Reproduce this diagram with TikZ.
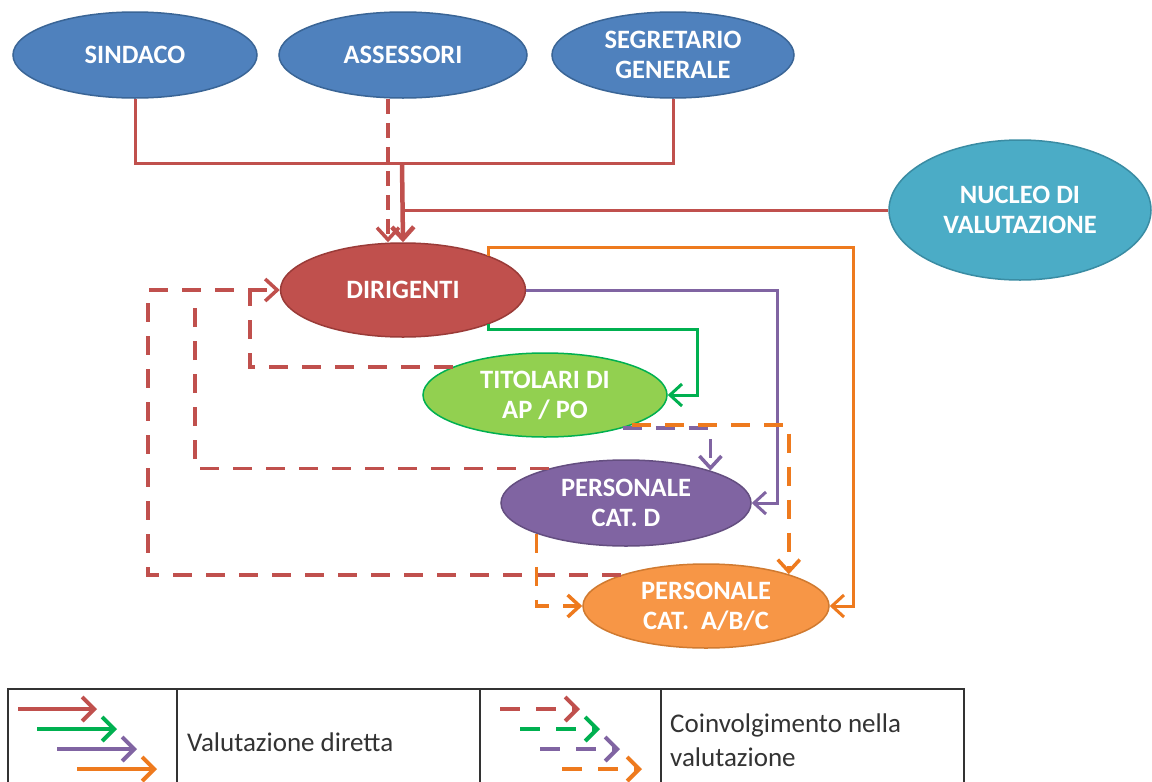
\documentclass[tikz,border=0pt]{standalone}
\usepackage{fontspec}
\setmainfont{Carlito}
\usetikzlibrary{arrows.meta,shapes.geometric}
\definecolor{cblue}{HTML}{4F81BD}
\definecolor{cblueb}{HTML}{3A6596}
\definecolor{cteal}{HTML}{4BACC6}
\definecolor{ctealb}{HTML}{3A8CA3}
\definecolor{cred}{HTML}{C0504D}
\definecolor{credb}{HTML}{9A3B38}
\definecolor{cgreenf}{HTML}{92D050}
\definecolor{cgreen}{HTML}{00B050}
\definecolor{cpurple}{HTML}{8064A2}
\definecolor{cpurpleb}{HTML}{644E80}
\definecolor{corangef}{HTML}{F79646}
\definecolor{corangeb}{HTML}{D07A30}
\definecolor{corange}{HTML}{EE7A1E}
\begin{document}
\begin{tikzpicture}[x=1pt,y=-1pt,
  oval/.style={ellipse, inner sep=0pt, line width=1.5pt, text=white, align=center,
    font=\bfseries\fontsize{26.5}{30}\selectfont},
  solidl/.style={line width=3pt},
  dashl/.style={line width=3.5pt, dash pattern=on 19pt off 14pt},
  arrowend/.style={-{Straight Barb[length=12pt,width=22pt]}},
  legsolid/.style={line width=4pt, -{Straight Barb[length=12pt,width=24pt]}},
  legdash/.style={line width=4pt, dash pattern=on 20pt off 16pt, -{Straight Barb[length=12pt,width=24pt]}},
  legtext/.style={anchor=west, align=left, inner sep=0pt, font=\fontsize{27}{34}\selectfont, text=black!80}]
\fill[white] (0,0) rectangle (1152,782);
\useasboundingbox (0,0) rectangle (1152,782);

% nodes
\node[oval, fill=cblue, draw=cblueb, minimum width=244pt, minimum height=86pt] (sind) at (135,55) {SINDACO};
\node[oval, fill=cblue, draw=cblueb, minimum width=248pt, minimum height=86pt] (ass) at (403,55) {ASSESSORI};
\node[oval, fill=cblue, draw=cblueb, minimum width=242pt, minimum height=86pt] (seg) at (673,55) {SEGRETARIO\\GENERALE};
\node[oval, fill=cteal, draw=ctealb, minimum width=262pt, minimum height=140pt] (nuc) at (1020,210) {NUCLEO DI\\VALUTAZIONE};
\node[oval, fill=cred, draw=credb, minimum width=245pt, minimum height=94pt] (dir) at (403,290) {DIRIGENTI};
\node[oval, fill=cgreenf, draw=cgreen, minimum width=244pt, minimum height=84pt] (tit) at (545,395) {TITOLARI DI\\AP / PO};
\node[oval, fill=cpurple, draw=cpurpleb, minimum width=250pt, minimum height=86pt] (catd) at (626,503) {PERSONALE\\CAT. D};
\node[oval, fill=corangef, draw=corangeb, minimum width=246pt, minimum height=84pt] (catabc) at (706,606) {PERSONALE\\CAT.~ A/B/C};

% coordinates
\coordinate (j1) at (402,163);
\coordinate (ad) at (388,0);
\coordinate (o1) at (853,247);
\coordinate (g0) at (697,329);
\path (catd.east) ++(26,0) coordinate (p1);
\coordinate (rA) at (148,290);
\coordinate (rB) at (195,303);
\coordinate (rC) at (250,290);

% red solid
\draw[solidl, cred] (sind.south) |- (j1) -| (seg.south);
\draw[solidl, cred] (nuc.west) -- (nuc.west -| j1);
\draw[cred, line width=4.5pt, arrowend] (j1) -- (dir.north);
% assessori dashed
\draw[cred, line width=3.5pt, dash pattern=on 15pt off 9pt, arrowend] (ass.south -| ad) -- (dir.north -| ad);

% direct evaluation from dirigenti
\draw[solidl, corange, arrowend] (dir.22) |- (o1) |- (catabc.east);
\draw[solidl, cpurple, arrowend] (dir.east) -| (p1) -- (catd.east);
\draw[solidl, cgreen, arrowend] (dir.-22) |- (g0) |- (tit.east);

% red dashed into dirigenti
\draw[dashl, cred] (tit.163) -| (rC);
\draw[dashl, cred] (catd.156) -| (rB);
\draw[dashl, cred, arrowend] (catabc.160) -| (rA) -- (dir.west);

% orange / purple dashed
\draw[dashl, cpurple, arrowend] (tit.-23) -| (catd.21);
\draw[dashl, corange, arrowend] (tit.-19) -| (catabc.21);
\draw[dashl, corange, arrowend] (catd.199) |- (catabc.west);

% legend table
\draw[line width=1.5pt, black!80] (8,783) -- (8,689) -- (964,689) -- (964,783);
\draw[line width=1.5pt, black!80] (177,689) -- (177,783);
\draw[line width=1.5pt, black!80] (480,689) -- (480,783);
\draw[line width=1.5pt, black!80] (661,689) -- (661,783);

\draw[legsolid, cred] (18,709) -- (97,709);
\draw[legsolid, cgreen] (37,729) -- (117,729);
\draw[legsolid, cpurple] (57,749) -- (137,749);
\draw[legsolid, corange] (77,769) -- (157,769);

\draw[legdash, cred] (500,709) -- (580,709);
\draw[legdash, cgreen] (520,729) -- (600,729);
\draw[legdash, cpurple] (540,749) -- (620,749);
\draw[legdash, corange] (562,769) -- (642,769);

\node[legtext] (leg1) at (187,742) {Valutazione diretta};
\node[legtext] (leg2) at (670,740) {Coinvolgimento nella\\valutazione};
\end{tikzpicture}
\end{document}
